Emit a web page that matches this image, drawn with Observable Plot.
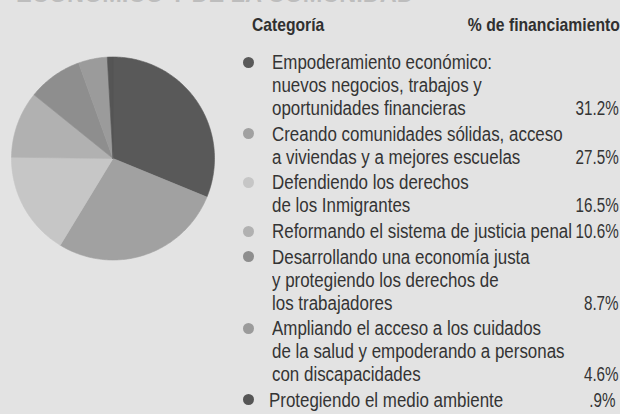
<!DOCTYPE html>
<html>
<head>
<meta charset="utf-8">
<script src="https://cdn.jsdelivr.net/npm/d3@7"></script>
<script src="https://cdn.jsdelivr.net/npm/@observablehq/plot@0.6"></script>
<style>
  html, body { margin: 0; padding: 0; background: #e3e3e3; }
  body { width: 620px; height: 414px; overflow: hidden; position: relative;
         font-family: "Liberation Sans", Arial, sans-serif; color: #343434; }
  #title { position: absolute; left: 16px; top: -18.5px; font-weight: bold; font-size: 23.5px; line-height: 24px;
           color: #bdbdbd; white-space: nowrap; }
  #pie { position: absolute; left: 0; top: 0; }
  .sx { display: inline-block; transform: scaleX(0.846); transform-origin: 0 50%; white-space: nowrap; }
  .sxr { display: inline-block; transform: scaleX(0.76); transform-origin: 100% 50%; white-space: nowrap; }
  #head .sxr { transform: scaleX(0.85); }
  #head { position: absolute; left: 252px; width: 368px; top: 14px; font-weight: bold; font-size: 18.5px;
          line-height: 22px; color: #303030; white-space: nowrap; }
  #head .right { position: absolute; right: 0; top: 0; }
  #legend { position: absolute; left: 272px; width: 346.5px; top: 48.6px; font-size: 20px; line-height: 23px; }
  .item { position: relative; margin-top: 2.6px; }
  .line { position: relative; white-space: nowrap; height: 23px; }
  .pct { position: absolute; right: 0; top: 0; }
  .dot { position: absolute; left: -29px; top: 5.6px; width: 11px; height: 11px; border-radius: 50%; }
  .last .line { left: -3px; }
</style>
</head>
<body>
<div id="title">ECONÓMICO Y DE LA COMUNIDAD</div>
<div id="pie"></div>
<div id="head"><span class="sx">Categoría</span><span class="right"><span class="sxr">% de financiamiento</span></span></div>
<div id="legend"></div>
<script>
const categories = [
  "Empoderamiento económico",
  "Comunidades sólidas",
  "Derechos de los Inmigrantes",
  "Justicia penal",
  "Economía justa",
  "Salud y discapacidades",
  "Medio ambiente"
];
const labelLines = [
  ["Empoderamiento económico:", "nuevos negocios, trabajos y", "oportunidades financieras"],
  ["Creando comunidades sólidas, acceso", "a viviendas y a mejores escuelas"],
  ["Defendiendo los derechos", "de los Inmigrantes"],
  ["Reformando el sistema de justicia penal"],
  ["Desarrollando una economía justa", "y protegiendo los derechos de", "los trabajadores"],
  ["Ampliando el acceso a los cuidados", "de la salud y empoderando a personas", "con discapacidades"],
  ["Protegiendo el medio ambiente"]
];
const shares = [31.2, 27.5, 16.5, 10.6, 8.7, 4.6, 0.9];
const shareLabels = ["31.2%", "27.5%", "16.5%", "10.6%", "8.7%", "4.6%", ".9%"];
const sliceColors = ["#595959", "#a1a1a1", "#c6c6c6", "#b1b1b1", "#8e8e8e", "#9b9b9b", "#555555"];

// Slice outlines from the shares (angles via d3.pie, clockwise from 12 o'clock)
const arcs = d3.pie().sort(null).value(d => d)(shares);
const pts = [];
arcs.forEach((a, i) => {
  const cat = categories[i];
  pts.push({cat, x: 0, y: 0});
  const n = Math.max(2, Math.ceil((a.endAngle - a.startAngle) / (Math.PI / 180)));
  for (let k = 0; k <= n; k++) {
    const t = a.startAngle + (a.endAngle - a.startAngle) * k / n;
    pts.push({cat, x: Math.sin(t), y: Math.cos(t)});
  }
  pts.push({cat, x: 0, y: 0});
});

const cx = 112.5, cy = 158, r = 101.5;
const pie = Plot.plot({
  width: 230,
  height: 300,
  margin: 0,
  x: {domain: [-1, 1], range: [cx - r, cx + r], axis: null},
  y: {domain: [-1, 1], range: [cy + r, cy - r], axis: null},
  color: {domain: categories, range: sliceColors},
  style: {background: "transparent", overflow: "visible"},
  marks: [
    Plot.line(pts, {x: "x", y: "y", z: "cat", fill: "cat", stroke: "cat", strokeWidth: 0.6})
  ]
});
document.getElementById("pie").appendChild(pie);

const color = pie.scale("color");
const legend = document.getElementById("legend");
labelLines.forEach((lines, i) => {
  const item = document.createElement("div");
  item.className = "item" + (i === labelLines.length - 1 ? " last" : "");
  const dot = document.createElement("span");
  dot.className = "dot";
  dot.style.background = color.apply(categories[i]);
  item.appendChild(dot);
  lines.forEach((t, j) => {
    const ln = document.createElement("div");
    ln.className = "line";
    const s = document.createElement("span");
    s.className = "sx";
    s.textContent = t;
    ln.appendChild(s);
    if (j === lines.length - 1) {
      const p = document.createElement("span");
      p.className = "pct";
      const ps = document.createElement("span");
      ps.className = "sxr";
      ps.textContent = shareLabels[i];
      p.appendChild(ps);
      ln.appendChild(p);
    }
    item.appendChild(ln);
  });
  legend.appendChild(item);
});
</script>
</body>
</html>
